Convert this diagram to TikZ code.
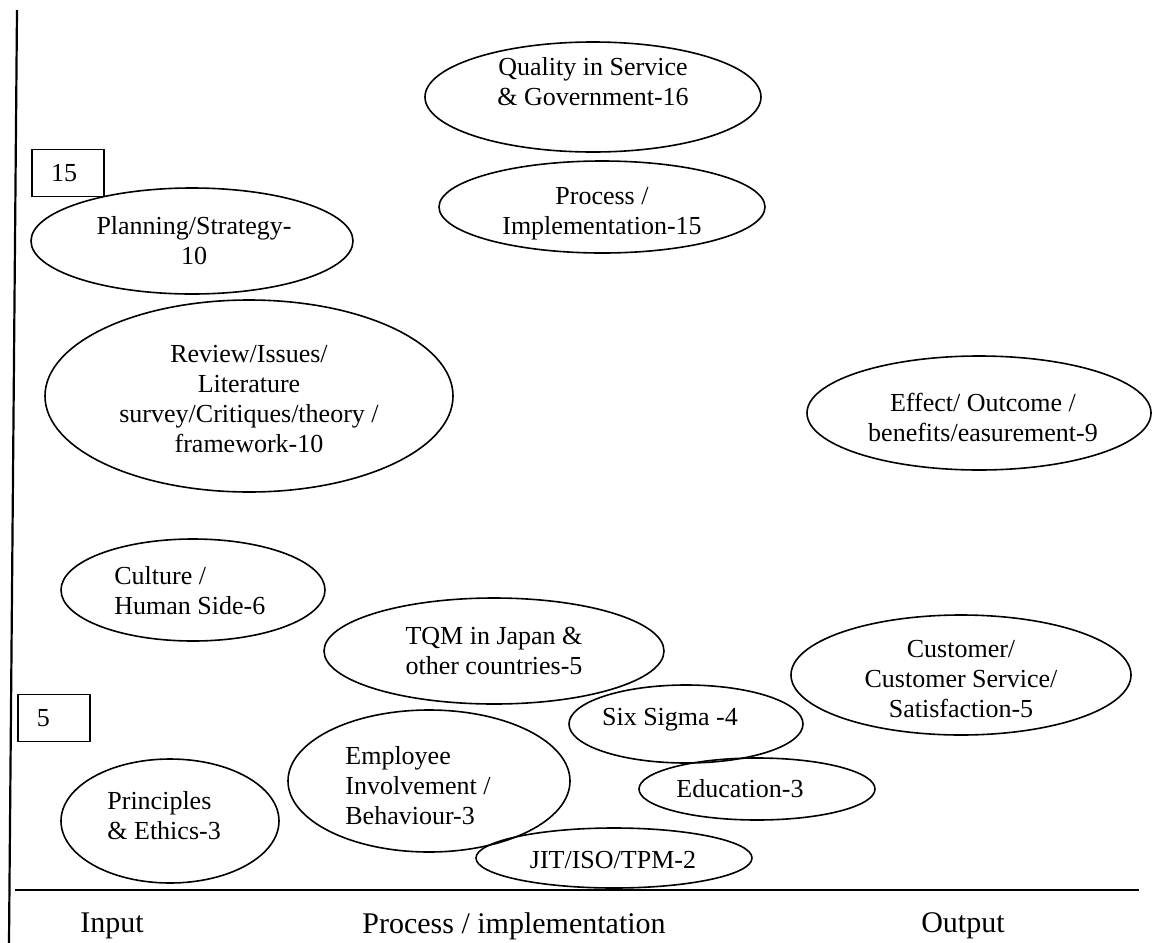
\documentclass[tikz,border=0pt]{standalone}
\usepackage{fontspec}
\setmainfont{Liberation Serif}
\usepackage{tikz}
\usetikzlibrary{shapes.geometric}
\tikzset{
	axisline/.style={black, line width=1.1pt},
	blob/.style={draw=black, line width=0.8pt, ellipse, inner sep=0pt},
	blobtext/.style={font=\fontsize{13}{15}\selectfont, align=center, inner sep=0pt},
	lefttext/.style={font=\fontsize{13}{15}\selectfont, align=left, inner sep=0pt, anchor=west},
	numbox/.style={draw=black, line width=0.7pt, rectangle, font=\fontsize{13}{15}\selectfont,
		minimum height=23.5pt, inner xsep=9.5pt, text width=17pt, align=left},
	axislabel/.style={font=\fontsize{15}{17}\selectfont, inner sep=0pt}
}

\begin{document}
\begin{tikzpicture}[x=0.5pt, y=-0.5pt]
		\useasboundingbox (0,0) rectangle (1169,943);
		
		% axes
		\coordinate (ytop) at (17,10);
		\coordinate (ybot) at (9,943);
		\coordinate (xl) at (15,890);
		\coordinate (xr) at (1139,890);
		\draw[axisline] (ytop) -- (ybot);
		\draw[axisline] (xl) -- (xr);
		
		% scale boxes
		\node[numbox] (b15) at (68,173) {15};
		\node[numbox] (b5) at (54,718) {5};
		
		% top group
		\node[blob, minimum width=168pt, minimum height=55pt] (qual) at (593,97) {};
		\node[blobtext] (qualt) at (593,82) {Quality in Service\\ \& Government-16};
		
		\node[blob, minimum width=163pt, minimum height=46pt] (proc) at (602,207) {};
		\node[blobtext] (proct) at (602,214) {Process /\\ Implementation-15};
		
		\node[blob, minimum width=161pt, minimum height=53pt] (plan) at (192,241) {};
		\node[blobtext] (plant) at (194,241) {Planning/Strategy-\\ 10};
		
		\node[blob, minimum width=204pt, minimum height=96pt] (rev) at (249,396) {};
		\node[blobtext] (revt) at (249,399) {Review/Issues/\\ Literature\\ survey/Critiques/theory /\\ framework-10};
		
		\node[blob, minimum width=172pt, minimum height=57pt] (eff) at (979,413) {};
		\node[blobtext] (efft) at (983,417) {Effect/ Outcome /\\ benefits/easurement-9};
		
		% middle group
		\node[blob, minimum width=132pt, minimum height=51pt] (cult) at (193,590) {};
		\node[lefttext] (cultt) at (114,591) {Culture /\\ Human Side-6};
		
		\node[blob, minimum width=170pt, minimum height=53pt] (tqm) at (494,651) {};
		\node[blobtext] (tqmt) at (494,651) {TQM in Japan \&\\ other countries-5};
		
		\node[blob, minimum width=170pt, minimum height=60pt] (cust) at (961,675) {};
		\node[blobtext] (custt) at (961,679) {Customer/\\ Customer Service/\\ Satisfaction-5};
		
		% bottom group
		\node[blob, minimum width=117pt, minimum height=39pt] (six) at (686,724) {};
		\node[blobtext] (sixt) at (670,720) {Six Sigma -4};
		
		\node[blob, minimum width=118pt, minimum height=31pt] (edu) at (757,789) {};
		\node[blobtext] (edut) at (740,789) {Education-3};
		
		\node[blob, minimum width=141pt, minimum height=71pt] (emp) at (429,781) {};
		\node[lefttext] (empt) at (345,786) {Employee\\ Involvement /\\ Behaviour-3};
		
		\node[blob, minimum width=138pt, minimum height=30pt] (jit) at (614,858) {};
		\node[blobtext] (jitt) at (613,860) {JIT/ISO/TPM-2};
		
		\node[blob, minimum width=109pt, minimum height=62pt] (prin) at (170,821) {};
		\node[lefttext] (print) at (107,816) {Principles\\ \& Ethics-3};
		
		% axis labels
		\node[axislabel] (lin) at (112,926) {Input};
		\node[axislabel] (lproc) at (514,926) {Process / implementation};
		\node[axislabel] (lout) at (963,926) {Output};
	\end{tikzpicture}
\end{document}
